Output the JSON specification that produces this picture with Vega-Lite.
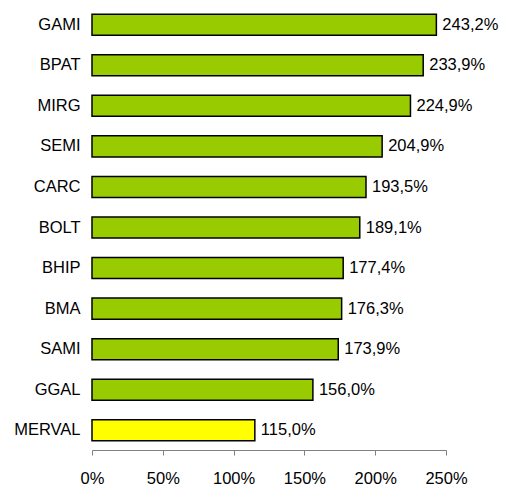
{
  "$schema": "https://vega.github.io/schema/vega-lite/v6.json",
  "autosize": {"type": "none"},
  "padding": {"left": 92, "top": 5, "right": 59, "bottom": 35},
  "width": 354,
  "height": 445,
  "background": "white",
  "config": {
    "view": {"stroke": null},
    "font": "Liberation Sans",
    "axis": {"grid": false, "labelFont": "Liberation Sans", "labelColor": "black", "labelFontSize": 16.5}
  },
  "data": {
    "values": [
      {"ticker": "GAMI", "value": 243.2, "label": "243,2%", "group": "stock"},
      {"ticker": "BPAT", "value": 233.9, "label": "233,9%", "group": "stock"},
      {"ticker": "MIRG", "value": 224.9, "label": "224,9%", "group": "stock"},
      {"ticker": "SEMI", "value": 204.9, "label": "204,9%", "group": "stock"},
      {"ticker": "CARC", "value": 193.5, "label": "193,5%", "group": "stock"},
      {"ticker": "BOLT", "value": 189.1, "label": "189,1%", "group": "stock"},
      {"ticker": "BHIP", "value": 177.4, "label": "177,4%", "group": "stock"},
      {"ticker": "BMA", "value": 176.3, "label": "176,3%", "group": "stock"},
      {"ticker": "SAMI", "value": 173.9, "label": "173,9%", "group": "stock"},
      {"ticker": "GGAL", "value": 156.0, "label": "156,0%", "group": "stock"},
      {"ticker": "MERVAL", "value": 115.0, "label": "115,0%", "group": "index"}
    ]
  },
  "encoding": {
    "y": {
      "field": "ticker",
      "type": "nominal",
      "sort": null,
      "scale": {"paddingInner": 0.48, "paddingOuter": 0.225},
      "axis": {"title": null, "domain": false, "ticks": false, "labelPadding": 12}
    },
    "x": {
      "field": "value",
      "type": "quantitative",
      "scale": {"domain": [0, 250], "nice": false},
      "axis": {
        "title": null,
        "values": [0, 50, 100, 150, 200, 250],
        "labelExpr": "datum.value + '%'",
        "labelFlush": false,
        "domainColor": "#808080",
        "tickColor": "#808080",
        "tickSize": 5,
        "labelPadding": 15
      }
    }
  },
  "layer": [
    {
      "mark": {"type": "bar", "stroke": "black", "strokeWidth": 1.5},
      "encoding": {
        "color": {
          "field": "group",
          "type": "nominal",
          "scale": {"domain": ["stock", "index"], "range": ["#99CC00", "#FFFF00"]},
          "legend": null
        }
      }
    },
    {
      "mark": {"type": "text", "align": "left", "baseline": "middle", "dx": 6, "fontSize": 16.5, "color": "black", "font": "Liberation Sans"},
      "encoding": {"text": {"field": "label"}}
    }
  ]
}
